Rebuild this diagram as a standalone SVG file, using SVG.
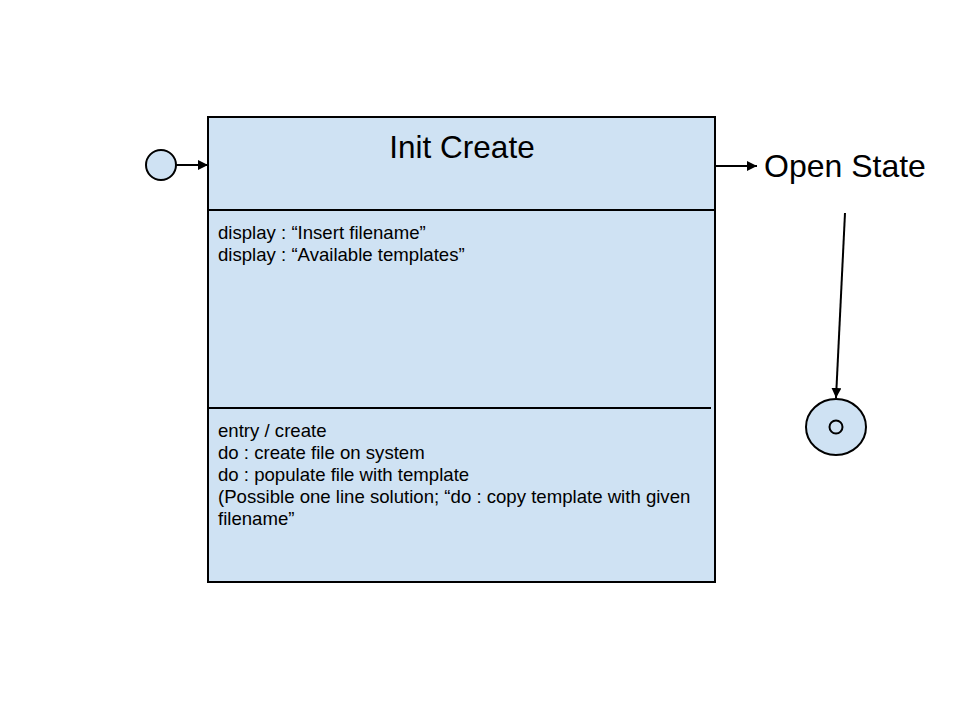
<svg xmlns="http://www.w3.org/2000/svg" width="960" height="720" viewBox="0 0 960 720">
<style>
.shape{fill:#cfe2f3;stroke:#000;stroke-width:2}
.ln{stroke:#000;stroke-width:2;fill:none}
.t{font-family:"Liberation Sans",Arial,sans-serif;fill:#000}
.body{font-size:18.6px}
.big{font-size:31.5px}
</style>
<defs>
<marker id="ah" viewBox="0 0 10 10" refX="10" refY="5" markerWidth="10" markerHeight="10" markerUnits="userSpaceOnUse" orient="auto">
<path d="M0,0 L10,5 L0,10 z" fill="#000"/>
</marker>
</defs>
<rect width="960" height="720" fill="#fff"/>
<g id="initial">
<ellipse class="shape" cx="161" cy="165" rx="15" ry="15"/>
</g>
<g id="init-create">
<rect class="shape" x="208" y="117" width="507" height="465"/>
<line class="ln" x1="208" y1="210" x2="716" y2="210"/>
<line class="ln" x1="208" y1="408" x2="711" y2="408"/>
<text class="t big" x="462" y="158" text-anchor="middle">Init Create</text>
<text class="t body" x="218" y="239">display : “Insert filename”</text>
<text class="t body" x="218" y="261">display : “Available templates”</text>
<text class="t body" x="218" y="437">entry / create</text>
<text class="t body" x="218" y="459">do : create file on system</text>
<text class="t body" x="218" y="481">do : populate file with template</text>
<text class="t body" x="218" y="503">(Possible one line solution; “do : copy template with given</text>
<text class="t body" x="218" y="525">filename”</text>
</g>
<g id="open-state">
<text class="t big" x="764" y="177" style="font-size:32px">Open State</text>
</g>
<g id="final">
<ellipse class="shape" cx="836" cy="427" rx="30" ry="28"/>
<circle class="ln" cx="836" cy="427" r="6.5"/>
</g>
<g id="connectors">
<line class="ln" x1="176" y1="165" x2="208" y2="165" marker-end="url(#ah)"/>
<line class="ln" x1="716" y1="166" x2="757" y2="166" marker-end="url(#ah)"/>
<line class="ln" x1="845" y1="213" x2="836" y2="398" marker-end="url(#ah)"/>
</g>
</svg>
